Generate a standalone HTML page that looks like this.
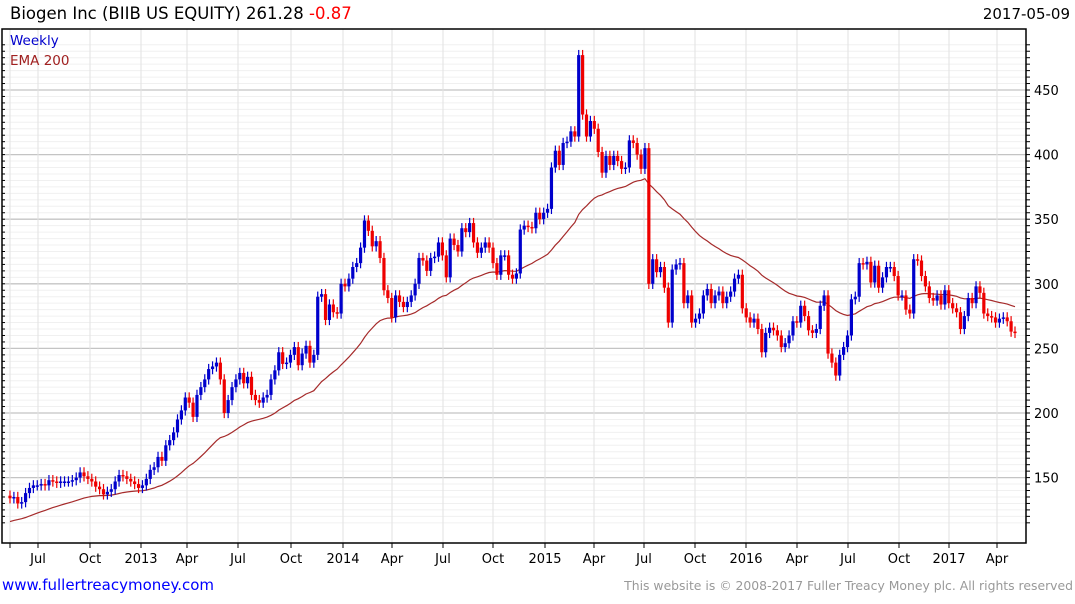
<!DOCTYPE html>
<html><head><meta charset="utf-8"><style>
body{margin:0;background:#fff;width:1075px;height:600px;overflow:hidden;font-family:"DejaVu Sans","Liberation Sans",sans-serif}
svg text{font-family:"DejaVu Sans","Liberation Sans",sans-serif}
</style></head><body>
<svg id="chart" width="1075" height="600" viewBox="0 0 1075 600" xmlns="http://www.w3.org/2000/svg">
<text x="10" y="19" font-size="16.5" fill="#000">Biogen Inc (BIIB US EQUITY) 261.28 <tspan fill="#f00">-0.87</tspan></text>
<text x="1070" y="19" font-size="15" fill="#000" text-anchor="end">2017-05-09</text>
<g id="grid"></g>
<g id="ema"></g>
<g id="candles"></g>
<rect x="2" y="29" width="1024" height="514" fill="none" stroke="#000" stroke-width="1.5"/>
<g id="axes"></g>
<text x="10" y="45" font-size="13.5" fill="#00c">Weekly</text>
<text x="10" y="65" font-size="13.5" fill="#a02020">EMA 200</text>
<text x="2" y="590" font-size="15" fill="#00f">www.fullertreacymoney.com</text>
<text x="1073" y="590" font-size="12.4" fill="#999" text-anchor="end">This website is © 2008-2017 Fuller Treacy Money plc. All rights reserved</text>
</svg>
<script>
const closes=[134,135,130,131,138,142,144,144,145,144,148,147,146,147,147,147,148,150,154,151,149,147,143,141,137,139,141,147,152,151,149,147,145,142,144,149,156,158,166,163,175,179,185,195,202,212,208,197,214,220,226,234,236,239,226,200,210,220,
226,231,223,228,214,210,208,212,214,226,233,247,238,239,245,251,237,246,252,239,245,290,292,272,284,278,277,300,298,304,313,316,
328,349,341,329,333,320,295,289,274,291,286,282,286,291,300,320,318,310,320,321,332,322,305,335,330,325,343,340,347,332,324,328,332,328,316,307,322,322,307,304,308,342,345,344,343,355,350,355,
358,390,403,392,409,410,418,414,477,431,414,426,420,402,386,399,392,399,395,389,390,411,409,400,389,405,300,319,309,313,297,270,311,315,316,285,291,270,273,277,291,296,285,291,294,285,290,294,304,307,281,274,270,273,265,247,262,
266,264,260,251,254,260,271,270,283,275,264,262,265,283,291,246,239,229,245,251,260,288,290,316,315,317,301,314,297,305,313,313,306,291,291,280,277,319,318,306,298,289,287,291,284,295,285,281,278,265,275,289,285,298,293,277,275,274,270,273,274,271,263,262];
const firstOpen=136;
const emaSeed=115;
const emaPeriod=40;
const yTicks=[150,200,250,300,350,400,450];
const xLabels=["Jul","Oct","2013","Apr","Jul","Oct","2014","Apr","Jul","Oct","2015","Apr","Jul","Oct","2016","Apr","Jul","Oct","2017","Apr"];
const xLabelPos=[38,90,141,187,238,291,343,392,443,493,545,594,644,695,746,797,848,899,949,997];
const NS="http://www.w3.org/2000/svg";
function yS(v){return 90+(450-v)*1.292;}
function xS(i){return 10+i*(1005/(closes.length-1));}
function mk(tag,attrs,parent){const e=document.createElementNS(NS,tag);for(const k in attrs)e.setAttribute(k,attrs[k]);parent.appendChild(e);return e;}
const grid=document.getElementById('grid'),axes=document.getElementById('axes');
for(let v=115;v<=485;v+=5){const y=yS(v);if(y<30||y>542)continue;
 const major=v%50===0;
 const l=mk('line',{x1:2,x2:1026,y1:y,y2:y,stroke:major?'#c4c4c4':'#f0f0f0','stroke-width':major?1.3:1},grid);
 
 
 const t=mk('line',{x1:1026,x2:1030,y1:y,y2:y,stroke:'#000'},axes);
 
 
 const t2=mk('line',{x1:2,x2:5,y1:y,y2:y,stroke:'#000'},axes);
 
 }
yTicks.forEach(v=>{const t=mk('text',{x:1034,y:yS(v)+5,'font-size':13,fill:'#000'},axes);t.textContent=v;
 
 });
const vx=[10].concat(xLabelPos);
vx.forEach(x=>{const l=mk('line',{x1:x,x2:x,y1:29,y2:543,stroke:'#e2e2e2'},grid);
 
 
 const t=mk('line',{x1:x,x2:x,y1:543,y2:548,stroke:'#000'},axes);
 
 });
xLabels.forEach((s,i)=>{const t=mk('text',{x:xLabelPos[i],y:563,'font-size':13,fill:'#000','text-anchor':'middle'},axes);t.textContent=s;
 
 });
const cg=document.getElementById('candles');
closes.forEach((c,i)=>{const o=i===0?firstOpen:closes[i-1];const up=c>=o;const col=up?'#0000cc':'#ee0000';
 const hi=Math.max(o,c)+4,lo=Math.min(o,c)-4;const x=xS(i);
 const w=mk('line',{x1:x,x2:x,y1:yS(hi),y2:yS(lo),stroke:col,'stroke-width':1.2},cg);
 
 
 const top=yS(Math.max(o,c)),h=Math.max(1.5,yS(Math.min(o,c))-top);
 const r=mk('rect',{x:x-1.6,y:top,width:3.2,height:h,fill:col},cg);
 
 });
let e=emaSeed;const a=2/(emaPeriod+1);let pts=[];
closes.forEach((c,i)=>{e=e+a*(c-e);pts.push(xS(i).toFixed(1)+','+yS(e).toFixed(1));});
const pl=mk('polyline',{points:pts.join(' '),fill:'none',stroke:'#a52a2a','stroke-width':1.2},document.getElementById('ema'));


</script>
</body></html>
